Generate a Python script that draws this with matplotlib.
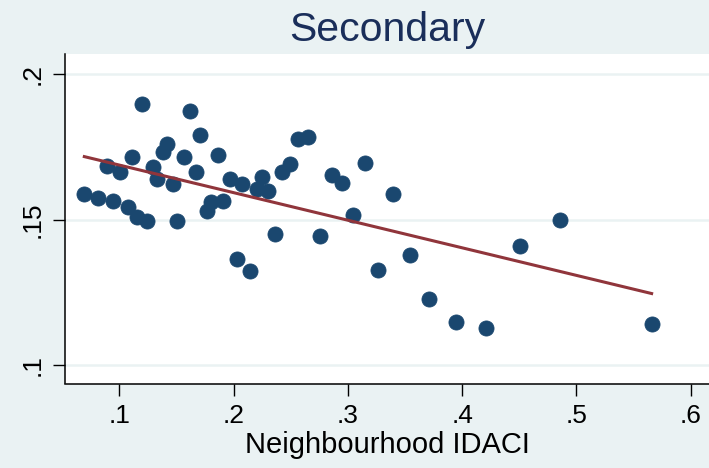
import numpy as np
import matplotlib
matplotlib.use('Agg')
from matplotlib import pyplot as plt
from matplotlib.ticker import FuncFormatter

# neighbourhood IDACI vs. school-level share, secondary schools
idaci = [0.0694, 0.0816, 0.0890, 0.0948, 0.1006, 0.1076, 0.1108, 0.1157, 0.1201, 0.1245,
         0.1297, 0.1327, 0.1380, 0.1415, 0.1467, 0.1507, 0.1563, 0.1619, 0.1671, 0.1710,
         0.1765, 0.1802, 0.1864, 0.1910, 0.1969, 0.2030, 0.2073, 0.2146, 0.2207, 0.2251,
         0.2305, 0.2360, 0.2428, 0.2496, 0.2566, 0.2651, 0.2759, 0.2859, 0.2950, 0.3049,
         0.3151, 0.3263, 0.3397, 0.3545, 0.3707, 0.3946, 0.4208, 0.4503, 0.4858, 0.5658]
share = [0.1588, 0.1574, 0.1684, 0.1564, 0.1664, 0.1544, 0.1714, 0.1510, 0.1896, 0.1495,
         0.1679, 0.1639, 0.1733, 0.1759, 0.1621, 0.1496, 0.1714, 0.1874, 0.1665, 0.1789,
         0.1530, 0.1559, 0.1723, 0.1562, 0.1639, 0.1365, 0.1623, 0.1324, 0.1604, 0.1645,
         0.1599, 0.1450, 0.1663, 0.1690, 0.1776, 0.1782, 0.1442, 0.1652, 0.1626, 0.1517,
         0.1693, 0.1326, 0.1588, 0.1379, 0.1227, 0.1148, 0.1126, 0.1410, 0.1497, 0.1140]

xticks = [0.1, 0.2, 0.3, 0.4, 0.5, 0.6]
yticks = [0.1, 0.15, 0.2]

bg = '#EAF2F3'
navy = '#1A476F'
maroon = '#90353B'

x = np.array(idaci)
y = np.array(share)
# linear fit over the observed range
b, a = np.polyfit(x, y, 1)
xfit = np.array([x.min(), x.max()])
yfit = a + b * xfit

plt.rcParams['font.family'] = ['Liberation Sans', 'DejaVu Sans']

fig = plt.figure(figsize=(7.09, 4.68), dpi=100, facecolor=bg)
ax = fig.add_axes([65 / 709, 1 - 383.5 / 468, 1 - 65 / 709, (383.5 - 54) / 468])
ax.set_facecolor('white')

ax.scatter(x, y, s=118, color=navy, edgecolors=navy, linewidths=0.6, zorder=3)
ax.plot(xfit, yfit, color=maroon, lw=2.2, zorder=4)

ax.set_xlim(0.0525, 0.616)
ax.set_ylim(0.09364, 0.2069)
ax.set_xticks(xticks)
ax.set_yticks(yticks)
fmt = FuncFormatter(lambda v, p: ('%g' % v).lstrip('0'))
ax.xaxis.set_major_formatter(fmt)
ax.yaxis.set_major_formatter(fmt)

ax.yaxis.grid(True, color=bg, lw=1.8, zorder=0)
ax.set_axisbelow(True)
for s in ['top', 'right']:
    ax.spines[s].set_visible(False)
for s in ['left', 'bottom']:
    ax.spines[s].set_linewidth(1.1)

ax.tick_params(axis='both', length=8.6, width=1.0, labelsize=19, pad=6)
ax.tick_params(axis='y', labelrotation=90)
for lab in ax.get_yticklabels():
    lab.set_va('center')

ax.set_xlabel('Neighbourhood IDACI', fontsize=21, labelpad=2)
ax.set_title('Secondary', fontsize=29.5, color='#1A2E5A', pad=9)

fig.savefig('out.png', dpi=100, facecolor=bg)
